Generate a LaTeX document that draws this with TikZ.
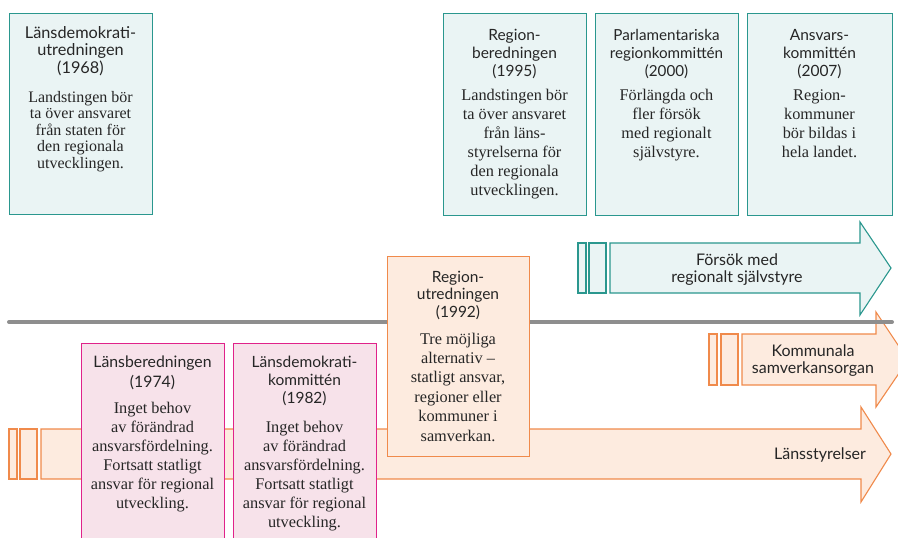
\documentclass[tikz,border=0pt]{standalone}
\usepackage{fontspec}
\setmainfont{Liberation Serif}
\newfontfamily\headfont{Lato}
\definecolor{tealc}{HTML}{2A978E}
\definecolor{tealf}{HTML}{EAF4F4}
\definecolor{pinkc}{HTML}{E0228A}
\definecolor{pinkf}{HTML}{F7E2EA}
\definecolor{orc}{HTML}{F08A4B}
\definecolor{orf}{HTML}{FDEBDF}
\definecolor{greyl}{HTML}{8E8E8E}
\definecolor{txt}{HTML}{262626}
\begin{document}
\begin{tikzpicture}[x=1pt,y=-1pt,
  boxbase/.style={rectangle, line width=1.1pt, inner sep=0pt, anchor=north west},
  tealbox/.style={boxbase, draw=tealc, fill=tealf},
  pinkbox/.style={boxbase, draw=pinkc, fill=pinkf},
  orbox/.style={boxbase, draw=orc, fill=orf},
  tealshape/.style={draw=tealc, fill=tealf, line width=1.1pt, line join=miter},
  orshape/.style={draw=orc, fill=orf, line width=1.1pt, line join=miter},
  head/.style={font=\headfont\fontsize{15.5}{18}\selectfont, text=txt, align=center, anchor=base, inner sep=0pt},
  body/.style={font=\fontsize{16.3}{19}\selectfont, text=txt, align=center, anchor=base, inner sep=0pt},
  arrowtext/.style={font=\headfont\fontsize{16}{17}\selectfont, text=txt, align=center, anchor=base, inner sep=0pt}
]
\useasboundingbox (0,0) rectangle (898,538);
\clip (0,0) rectangle (898,538);

% Lansstyrelser arrow
\draw[orshape] (9,429) rectangle (17,479);
\draw[orshape] (20,429) rectangle (37,479);
\draw[orshape] (41,429) -- (861,429) -- (861,407) -- (891,454) -- (861,502) -- (861,479) -- (41,479) -- cycle;

% Kommunala arrow
\draw[orshape] (709,334) rectangle (717,385);
\draw[orshape] (721,334) rectangle (738,385);
\draw[orshape] (742,334) -- (876,334) -- (876,312) -- (908,360) -- (876,407) -- (876,385) -- (742,385) -- cycle;

% grey timeline
\draw[greyl, line width=4pt, line cap=round] (9,322) -- (892,322);

% Forsok arrow
\draw[tealshape] (578,243) rectangle (586,293);
\draw[tealshape] (589,243) rectangle (606,293);
\draw[tealshape] (610,243) -- (860,243) -- (860,222) -- (891,268) -- (860,315) -- (860,293) -- (610,293) -- cycle;

% teal boxes
\node[tealbox, minimum width=143pt, minimum height=201pt] (b1968) at (9,13) {};
\node[tealbox, minimum width=143pt, minimum height=202pt] (b1995) at (443,13) {};
\node[tealbox, minimum width=143pt, minimum height=202pt] (b2000) at (595,13) {};
\node[tealbox, minimum width=145pt, minimum height=202pt] (b2007) at (747,13) {};

% pink boxes
\node[pinkbox, minimum width=143pt, minimum height=220pt] (b1974) at (81,343) {};
\node[pinkbox, minimum width=143pt, minimum height=220pt] (b1982) at (233,343) {};

% orange box
\node[orbox, minimum width=142pt, minimum height=200pt] (b1992) at (387,256) {};

% texts teal (anchor = baseline of last line)
\node[head, font=\headfont\fontsize{16.3}{17.5}\selectfont] (h1968) at (80.5,73) {Länsdemokrati-\\utredningen\\(1968)};
\node[body, font=\fontsize{16}{16.6}\selectfont] (t1968) at (80.5,168.4) {Landstingen bör\\ta över ansvaret\\från staten för\\den regionala\\utvecklingen.};

\node[head] (h1995) at (514.5,76) {Region-\\beredningen\\(1995)};
\node[body] (t1995) at (514.5,195) {Landstingen bör\\ta över ansvaret\\från läns-\\styrelserna för\\den regionala\\utvecklingen.};

\node[head, font=\headfont\fontsize{15.2}{18}\selectfont] (h2000) at (666.5,76) {Parlamentariska\\regionkommittén\\(2000)};
\node[body] (t2000) at (666.5,157) {Förlängda och\\fler försök\\med regionalt\\självstyre.};

\node[head] (h2007) at (819.5,76) {Ansvars-\\kommittén\\(2007)};
\node[body] (t2007) at (819.5,157) {Region-\\kommuner\\bör bildas i\\hela landet.};

% texts pink
\node[head, font=\headfont\fontsize{15.8}{20}\selectfont] (h1974) at (152.5,387) {Länsberedningen\\(1974)};
\node[body] (t1974) at (152.5,508) {Inget behov\\av förändrad\\ansvarsfördelning.\\Fortsatt statligt\\ansvar för regional\\utveckling.};

\node[head] (h1982) at (304.5,403) {Länsdemokrati-\\kommittén\\(1982)};
\node[body] (t1982) at (304.5,527) {Inget behov\\av förändrad\\ansvarsfördelning.\\Fortsatt statligt\\ansvar för regional\\utveckling.};

% text orange box
\node[head, font=\headfont\fontsize{15.5}{17.5}\selectfont] (h1992) at (458,317) {Region-\\utredningen\\(1992)};
\node[body, font=\fontsize{16.3}{19.4}\selectfont] (t1992) at (458,441) {Tre möjliga\\alternativ –\\statligt ansvar,\\regioner eller\\kommuner i\\samverkan.};

% arrow labels
\node[arrowtext] (lforsok) at (737,282) {Försök med\\regionalt självstyre};
\node[arrowtext] (lkomm) at (813,373) {Kommunala\\samverkansorgan};
\node[arrowtext] (llans) at (820,459) {Länsstyrelser};
\end{tikzpicture}
\end{document}
